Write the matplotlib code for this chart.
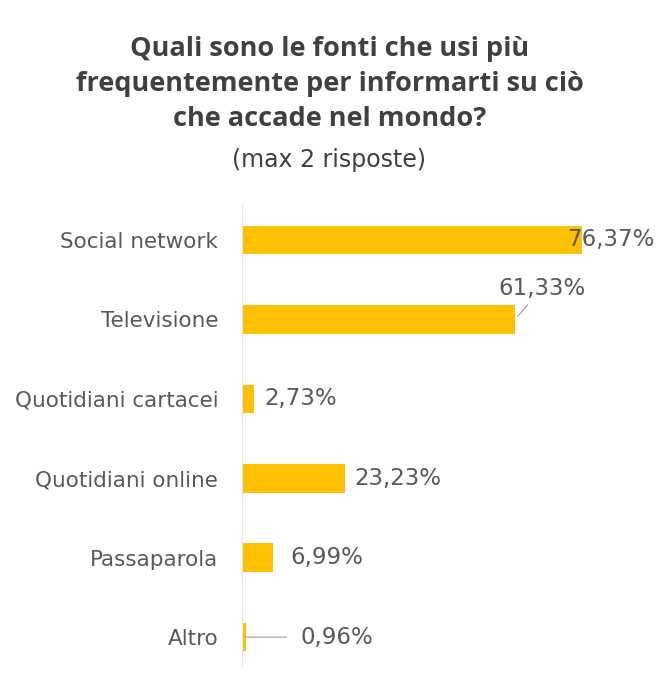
import matplotlib
matplotlib.use("Agg")
import matplotlib.pyplot as plt

# risposte alla domanda sulle fonti di informazione
fonti = ["Social network", "Televisione", "Quotidiani cartacei",
         "Quotidiani online", "Passaparola", "Altro"]
percentuali = [76.37, 61.33, 2.73, 23.23, 6.99, 0.96]
etichette = ["76,37%", "61,33%", "2,73%", "23,23%", "6,99%", "0,96%"]

giallo = "#FFC000"
grigio = "#595959"

plt.rcParams["font.family"] = ["DejaVu Sans"]

fig = plt.figure(figsize=(6.59, 6.73), dpi=100)
ax = fig.add_axes([0.3672, 0.0119, 0.608, 0.6835])

pos = list(range(len(fonti)))
ax.barh(pos, percentuali, height=0.36, color=giallo)
ax.set_xlim(0, 90)
ax.set_ylim(5.35, -0.44)

ax.set_yticks(pos)
ax.set_yticklabels(fonti, fontsize=15.5, color=grigio)
ax.tick_params(axis="y", length=0, pad=17)
ax.set_xticks([])
for s in ["top", "right", "bottom"]:
    ax.spines[s].set_visible(False)
ax.spines["left"].set_color("#e6e6e6")

# spostamento delle etichette (pixel) e linee di richiamo
spost = [(-15, 0), (27, 31), (10, 0), (9, 0), (17, 0), (54, 0)]
richiamo = [False, True, False, False, False, True]
for i, (v, t) in enumerate(zip(percentuali, etichette)):
    arrow = None
    if richiamo[i]:
        arrow = dict(arrowstyle="-", color="#a6a6a6", lw=0.9,
                     shrinkA=2 if i == 1 else 8, shrinkB=3 if i == 1 else 0)
    ax.annotate(t, xy=(v, i), xytext=spost[i], textcoords="offset pixels",
                ha="left" if i != 1 else "center", va="center",
                fontsize=16.5, color=grigio, arrowprops=arrow)

fig.text(0.5, 0.875, "Quali sono le fonti che usi più\n"
         "frequentemente per informarti su ciò\nche accade nel mondo?",
         ha="center", va="center", fontsize=19.5, fontweight="bold",
         family="Open Sans", color="#404040", linespacing=1.46)
fig.text(0.5, 0.762, "(max 2 risposte)", ha="center", va="center",
         fontsize=17, color="#404040")

fig.savefig("out.png", dpi=100)
